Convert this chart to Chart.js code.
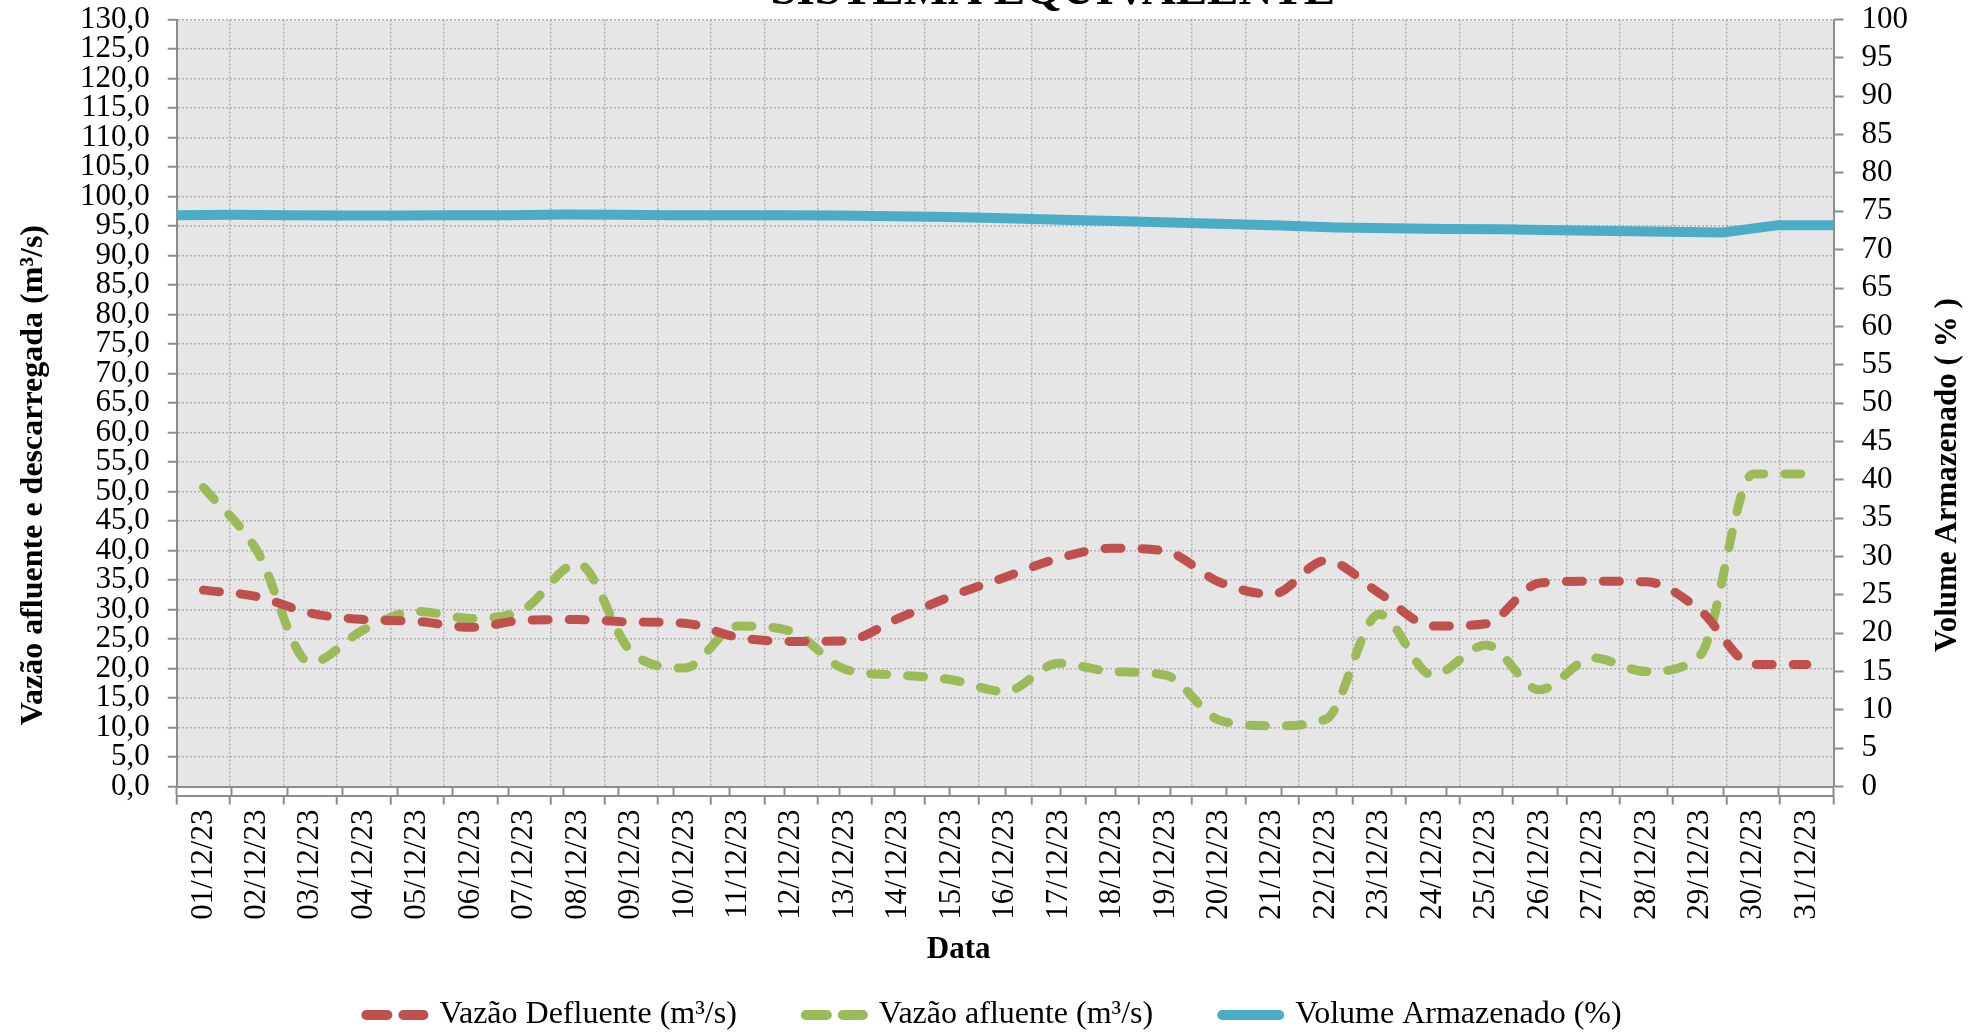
<!DOCTYPE html>
<html lang="pt-BR">
<head>
    <meta charset="UTF-8">
    <title>Sistema Equivalente</title>
    <style>
        html, body { margin: 0; padding: 0; background: #fff; overflow: hidden; }
        #wrap { position: absolute; left: 0; top: -17px; width: 1970px; height: 1058px; }
    </style>
</head>
<body>
    <div id="wrap"><canvas id="grafico"></canvas></div>

    <script src="https://cdn.jsdelivr.net/npm/chart.js"></script>
    <script>
        // Dados de dezembro/2023
        const datas = ['01/12/23', '02/12/23', '03/12/23', '04/12/23', '05/12/23', '06/12/23', '07/12/23', '08/12/23',
            '09/12/23', '10/12/23', '11/12/23', '12/12/23', '13/12/23', '14/12/23', '15/12/23', '16/12/23',
            '17/12/23', '18/12/23', '19/12/23', '20/12/23', '21/12/23', '22/12/23', '23/12/23', '24/12/23',
            '25/12/23', '26/12/23', '27/12/23', '28/12/23', '29/12/23', '30/12/23', '31/12/23'];

        const vazaoDefluente = [33.3, 32.2, 29.4, 28.3, 28.0, 27.0, 28.2, 28.3, 27.9, 27.7, 25.3, 24.6, 24.7, 28.5, 32.3, 35.5,
            38.7, 40.4, 39.9, 34.7, 32.6, 38.3, 32.8, 27.2, 27.6, 34.5, 34.8, 34.7, 29.9, 20.7, 20.7];

        const vazaoAfluente = [50.7, 40.0, 21.0, 26.6, 29.7, 28.5, 30.1, 37.8, 22.9, 20.1, 27.2, 26.3, 19.9, 18.9, 18.1, 16.1,
            20.9, 19.5, 18.9, 11.3, 10.3, 11.4, 29.2, 18.9, 24.0, 16.4, 21.8, 19.5, 22.2, 53.0, 53.0];

        const volumeArmazenado = [74.5, 74.55, 74.5, 74.45, 74.45, 74.5, 74.5, 74.6, 74.55, 74.5, 74.5, 74.5, 74.45, 74.35, 74.25, 74.1,
            73.9, 73.75, 73.55, 73.35, 73.15, 72.9, 72.8, 72.7, 72.65, 72.55, 72.45, 72.35, 72.25, 73.2, 73.2];

        const tituloEsq = 'Vazão afluente e descarregada (m³/s)';
        const tituloDir = 'Volume Armazenado ( % )';

        const fonte = '"Liberation Serif", "Times New Roman", serif';
        const corGrade = '#b0b0b0';
        const corEixo = '#8c8c8c';
        const espacos = n => ' '.repeat(n);

        Chart.defaults.font.family = fonte;
        Chart.defaults.color = '#000';

        // fundo cinza da área de plotagem
        const fundo = {
            id: 'fundo',
            beforeDraw(chart) {
                const { ctx, chartArea: a } = chart;
                ctx.save();
                ctx.fillStyle = '#e6e6e6';
                ctx.fillRect(a.left, a.top, a.right - a.left, a.bottom - a.top);
                ctx.restore();
            }
        };

        // títulos verticais (os dois lidos de baixo para cima)
        const titulosLaterais = {
            id: 'titulosLaterais',
            afterDraw(chart) {
                const { ctx, chartArea: a, scales } = chart;
                const meio = (a.top + a.bottom) / 2 + 72;
                ctx.save();
                ctx.fillStyle = '#000';
                ctx.textAlign = 'center';
                ctx.textBaseline = 'middle';
                [[scales.y.left - 28, tituloEsq, 32], [scales.y1.right + 22, tituloDir, 31]].forEach(([x, txt, tam]) => {
                    ctx.save();
                    ctx.font = 'bold ' + tam + 'px ' + fonte;
                    ctx.translate(x, meio);
                    ctx.rotate(-Math.PI / 2);
                    ctx.fillText(txt, 0, 0);
                    ctx.restore();
                });
                ctx.restore();
            }
        };

        const tracejado = [16, 21];
        const tracejadoLegenda = [21, 16];

        new Chart(document.getElementById('grafico'), {
            type: 'line',
            data: {
                labels: datas,
                datasets: [
                    {
                        label: 'Vazão Defluente (m³/s)',
                        data: vazaoDefluente,
                        xAxisID: 'x',
                        yAxisID: 'y',
                        borderColor: '#c0504d',
                        backgroundColor: '#c0504d',
                        borderWidth: 9,
                        borderDash: tracejado,
                        borderCapStyle: 'round',
                        cubicInterpolationMode: 'monotone',
                        pointRadius: 0
                    },
                    {
                        label: 'Vazão afluente (m³/s)',
                        data: vazaoAfluente,
                        xAxisID: 'x',
                        yAxisID: 'y',
                        borderColor: '#9bbb59',
                        backgroundColor: '#9bbb59',
                        borderWidth: 9,
                        borderDash: tracejado,
                        borderCapStyle: 'round',
                        cubicInterpolationMode: 'monotone',
                        pointRadius: 0
                    },
                    {
                        label: 'Volume Armazenado (%)',
                        data: volumeArmazenado,
                        xAxisID: 'x2',
                        yAxisID: 'y1',
                        borderColor: '#4bacc6',
                        backgroundColor: '#4bacc6',
                        borderWidth: 10,
                        borderCapStyle: 'round',
                        clip: 0,
                        tension: 0,
                        pointRadius: 0
                    }
                ]
            },
            options: {
                responsive: true,
                maintainAspectRatio: false,
                animation: false,
                layout: { padding: { left: 62, right: 44 } },
                plugins: {
                    title: {
                        display: true,
                        text: espacos(10) + 'SISTEMA EQUIVALENTE',
                        font: { size: 47, weight: 'bold' },
                        color: '#000',
                        padding: { top: -19, bottom: -0.8 }
                    },
                    legend: {
                        position: 'bottom',
                        labels: {
                            usePointStyle: true,
                            pointStyle: 'line',
                            pointStyleWidth: 57,
                            padding: 5,
                            font: { size: 32 },
                            color: '#000',
                            // amostra tracejada (dois traços) + espaço entre os itens
                            generateLabels(chart) {
                                const itens = Chart.defaults.plugins.legend.labels.generateLabels(chart);
                                return itens.map((it, i) => {
                                    const ds = chart.data.datasets[it.datasetIndex];
                                    return {
                                        ...it,
                                        text: i < itens.length - 1 ? it.text + espacos(8) : it.text,
                                        lineDash: ds.borderDash ? tracejadoLegenda : [],
                                        lineCap: 'round',
                                        lineWidth: 10
                                    };
                                });
                            }
                        }
                    },
                    tooltip: { enabled: false }
                },
                scales: {
                    x2: {
                        type: 'category',
                        position: 'bottom',
                        offset: false,
                        weight: 0,
                        grid: { drawOnChartArea: false, tickLength: 9, tickColor: corEixo, tickWidth: 2 },
                        border: { color: corEixo, width: 2 },
                        ticks: { display: false, autoSkip: false }
                    },
                    x: {
                        type: 'category',
                        position: 'bottom',
                        offset: true,
                        weight: 1,
                        grid: { offset: true, color: corGrade, lineWidth: 1.5, tickLength: 9, tickColor: corEixo, tickWidth: 2 },
                        border: { color: corEixo, width: 2, dash: [2, 2] },
                        ticks: { font: { size: 31 }, color: '#000', padding: 5, minRotation: 90, maxRotation: 90, autoSkip: false },
                        title: {
                            display: true,
                            text: 'Data' + espacos(12),
                            font: { size: 31, weight: 'bold' },
                            color: '#000',
                            padding: { top: 7, bottom: 25 }
                        }
                    },
                    y: {
                        position: 'left',
                        min: 0,
                        max: 130,
                        grid: { color: corGrade, lineWidth: 1.5, tickLength: 9, tickColor: corEixo, tickWidth: 2 },
                        border: { color: corEixo, width: 2, dash: [2, 2] },
                        ticks: {
                            stepSize: 5,
                            autoSkip: false,
                            padding: 18,
                            font: { size: 31 },
                            color: '#000',
                            callback: v => v.toFixed(1).replace('.', ',')
                        }
                    },
                    y1: {
                        position: 'right',
                        min: 0,
                        max: 100,
                        grid: { drawOnChartArea: false, tickLength: 10, tickColor: corEixo, tickWidth: 2 },
                        border: { color: corEixo, width: 2 },
                        ticks: { stepSize: 5, autoSkip: false, padding: 18, font: { size: 31 }, color: '#000' }
                    }
                }
            },
            plugins: [fundo, titulosLaterais]
        });
    </script>
</body>
</html>
